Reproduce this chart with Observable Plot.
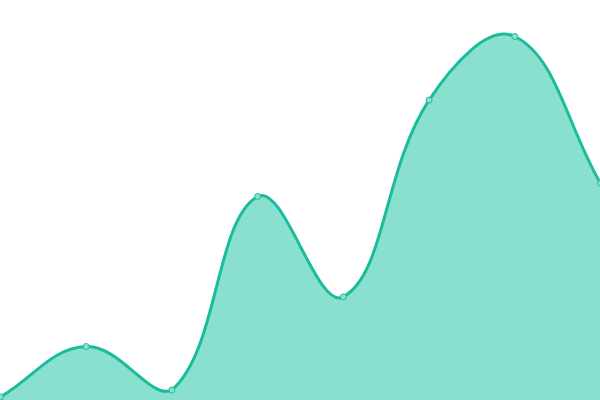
<!DOCTYPE html>
<html>
<head>
<meta charset="utf-8">
<script src="https://cdn.jsdelivr.net/npm/d3@7"></script>
<script src="https://cdn.jsdelivr.net/npm/@observablehq/plot@0.6"></script>
<style>
  html, body { margin: 0; padding: 0; background: #fff; overflow: hidden; }
</style>
</head>
<body>
<div id="chart"></div>
<script>
const indexes = [0, 1, 2, 3, 4, 5, 6, 7];
const values = [0.9, 13.5, 2.6, 51, 25.9, 75.1, 91, 54.3];

const W = 600, H = 400;
const data = indexes.map((x, i) => ({x, y: values[i]}));

// Tension spline (control points weighted by segment length, capped to the frame)
function tensionCurve(t, left, right, top, bottom) {
  return (context) => {
    let pts = [], line;
    const cx = v => Math.max(left, Math.min(right, v));
    const cy = v => Math.max(top, Math.min(bottom, v));
    return {
      areaStart() { line = 0; },
      areaEnd() { line = NaN; },
      lineStart() { pts = []; },
      point(x, y) { pts.push([+x, +y]); },
      lineEnd() {
        const n = pts.length;
        if (n) {
          if (line) context.lineTo(pts[0][0], pts[0][1]);
          else context.moveTo(pts[0][0], pts[0][1]);
          const cps = pts.map((p, i) => {
            const a = pts[Math.max(0, i - 1)], b = pts[Math.min(n - 1, i + 1)];
            const d01 = Math.hypot(p[0] - a[0], p[1] - a[1]);
            const d12 = Math.hypot(b[0] - p[0], b[1] - p[1]);
            let s01 = d01 / (d01 + d12), s12 = d12 / (d01 + d12);
            if (isNaN(s01)) s01 = 0;
            if (isNaN(s12)) s12 = 0;
            const fa = t * s01, fb = t * s12;
            return {
              prev: [cx(p[0] - fa * (b[0] - a[0])), cy(p[1] - fa * (b[1] - a[1]))],
              next: [cx(p[0] + fb * (b[0] - a[0])), cy(p[1] + fb * (b[1] - a[1]))]
            };
          });
          for (let i = 1; i < n; i++) {
            context.bezierCurveTo(cps[i - 1].next[0], cps[i - 1].next[1], cps[i].prev[0], cps[i].prev[1], pts[i][0], pts[i][1]);
          }
        }
        if (line || (line !== 0 && n === 1)) context.closePath();
        line = 1 - line;
      }
    };
  };
}

const curve = tensionCurve(0.4, 0, W, 0, H);

const chart = Plot.plot({
  width: W,
  height: H,
  margin: 0,
  x: {domain: [0, 7], axis: null},
  y: {domain: [0, 100], axis: null},
  marks: [
    Plot.areaY(data, {x: "x", y: "y", curve, fill: "#8ae0cf"}),
    Plot.lineY(data, {x: "x", y: "y", curve, stroke: "#1abc9c", strokeWidth: 3}),
    Plot.dot(data, {x: "x", y: "y", r: 3, fill: "#8ae0cf", stroke: "#1abc9c", strokeWidth: 1})
  ]
});
document.getElementById("chart").appendChild(chart);
</script>
</body>
</html>
